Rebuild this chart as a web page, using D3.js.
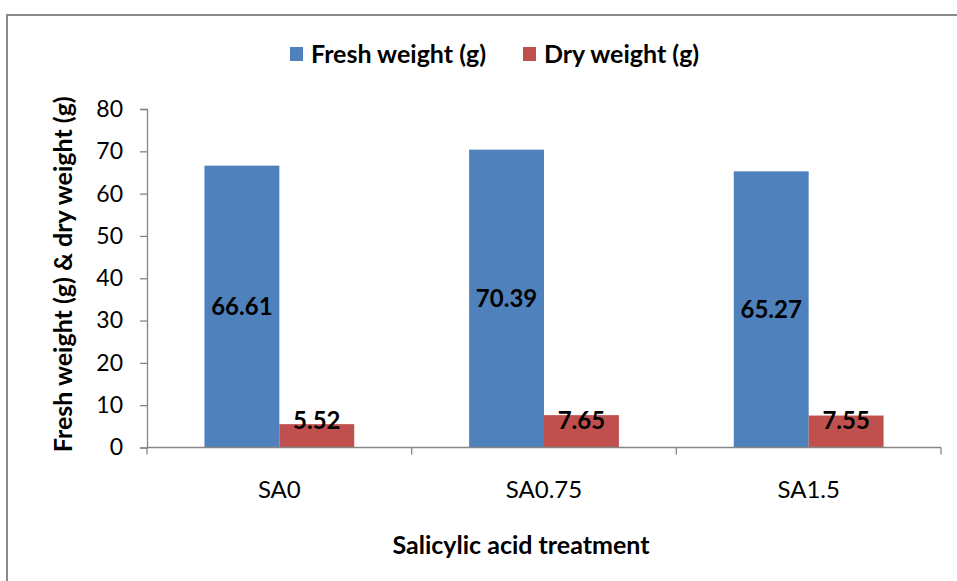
<!DOCTYPE html>
<html>
<head>
<meta charset="utf-8">
<script src="https://cdn.jsdelivr.net/npm/d3@7"></script>
<style>
  html, body { margin: 0; padding: 0; background: #fff; }
  svg { display: block; font-family: Lato, "Open Sans", sans-serif; }
</style>
</head>
<body>
<svg id="chart" width="957" height="581"></svg>
<script>
// Treatments and measured weights
const categories = ["SA0", "SA0.75", "SA1.5"];
const freshWeight = [66.61, 70.39, 65.27];
const dryWeight = [5.52, 7.65, 7.55];
const seriesNames = ["Fresh weight (g)", "Dry weight (g)"];
const yTicks = [0, 10, 20, 30, 40, 50, 60, 70, 80];

const colors = ["#4F81BD", "#C0504D"];
const axisColor = "#868686";

const svg = d3.select("#chart");
const W = 957, H = 581;
const margin = { left: 147, right: 16, top: 109, bottom: 133 };

// Outer chart frame
svg.append("rect")
  .attr("x", 7).attr("y", 15)
  .attr("width", 1000).attr("height", 1000)
  .attr("fill", "none").attr("stroke", "#8a8a8a").attr("stroke-width", 2);

const x = d3.scaleBand()
  .domain(categories)
  .range([margin.left, W - margin.right])
  .paddingInner(0.434)
  .paddingOuter(0.217);

const xs = d3.scaleBand()
  .domain([0, 1])
  .range([0, x.bandwidth()]);

const y = d3.scaleLinear()
  .domain([0, 80])
  .range([H - margin.bottom - 0.5, margin.top]);

const series = [freshWeight, dryWeight];

// Bars
series.forEach((vals, si) => {
  svg.append("g").selectAll("rect")
    .data(vals)
    .join("rect")
    .attr("x", (d, i) => x(categories[i]) + xs(si))
    .attr("y", d => y(d))
    .attr("width", xs.bandwidth())
    .attr("height", d => y(0) - y(d))
    .attr("fill", colors[si]);
});

// Value labels
series.forEach((vals, si) => {
  svg.append("g").selectAll("text")
    .data(vals)
    .join("text")
    .attr("x", (d, i) => x(categories[i]) + xs(si) + xs.bandwidth() / 2)
    .attr("y", d => Math.min(y(d / 2), y(0) - 27))
    .attr("dy", "0.35em")
    .attr("text-anchor", "middle")
    .attr("font-weight", "bold")
    .attr("font-size", 24)
    .attr("fill", "#000")
    .text(d => d.toFixed(2));
});

// Y axis
const yAxis = svg.append("g")
  .attr("transform", `translate(${margin.left},0)`)
  .call(d3.axisLeft(y).tickValues(yTicks).tickSize(7).tickPadding(17).tickFormat(d3.format("d")));
yAxis.select(".domain").attr("stroke", axisColor).attr("stroke-width", 1.3);
yAxis.selectAll(".tick line").attr("stroke", axisColor).attr("stroke-width", 1.3);
yAxis.selectAll(".tick text").attr("font-size", 23).attr("fill", "#000")
  .attr("font-family", "Lato, sans-serif");

// X axis with ticks at category boundaries
const xAxisG = svg.append("g").attr("transform", `translate(0,${y(0)})`);
xAxisG.append("line")
  .attr("x1", margin.left).attr("x2", W - margin.right)
  .attr("stroke", axisColor).attr("stroke-width", 1.3);
const boundaries = [margin.left].concat(categories.map(c => x(c) + x.bandwidth() + x.step() * x.paddingInner() / 2));
xAxisG.selectAll("line.tick")
  .data(boundaries)
  .join("line")
  .attr("class", "tick")
  .attr("x1", d => d).attr("x2", d => d)
  .attr("y1", 0).attr("y2", 7)
  .attr("stroke", axisColor).attr("stroke-width", 1.3);
xAxisG.selectAll("text")
  .data(categories)
  .join("text")
  .attr("x", d => x(d) + x.bandwidth() / 2)
  .attr("y", 50)
  .attr("text-anchor", "middle")
  .attr("font-size", 24)
  .attr("fill", "#000")
  .text(d => d);

// Axis titles
svg.append("text")
  .attr("x", 521).attr("y", 554)
  .attr("text-anchor", "middle")
  .attr("font-weight", "bold").attr("font-size", 25)
  .text("Salicylic acid treatment");

svg.append("text")
  .attr("transform", `translate(72,${(y(0) + y(80)) / 2 - 4}) rotate(-90)`)
  .attr("text-anchor", "middle")
  .attr("font-weight", "bold").attr("font-size", 25)
  .text("Fresh weight (g) & dry weight (g)");

// Legend
const legend = svg.append("g");
const legendX = [290, 523];
seriesNames.forEach((name, i) => {
  legend.append("rect")
    .attr("x", legendX[i]).attr("y", 47)
    .attr("width", 13).attr("height", 14)
    .attr("fill", colors[i]);
  legend.append("text")
    .attr("x", legendX[i] + 21).attr("y", 63)
    .attr("font-weight", "bold").attr("font-size", 25)
    .text(name);
});
</script>
</body>
</html>
